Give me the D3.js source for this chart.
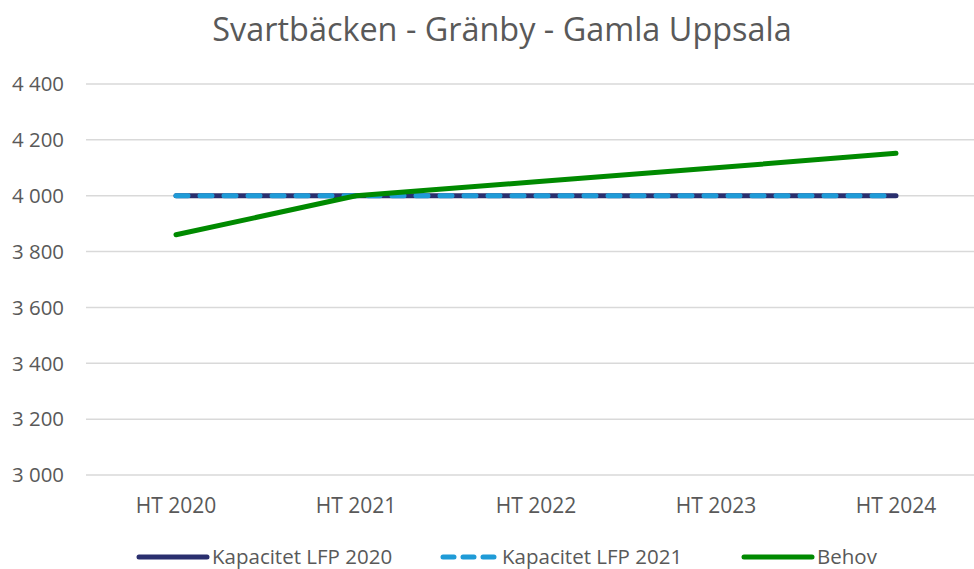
<!DOCTYPE html>
<html>
<head>
<meta charset="utf-8">
<script src="https://cdn.jsdelivr.net/npm/d3@7/dist/d3.min.js"></script>
<style>
  html, body { margin: 0; padding: 0; background: #fff; }
  svg { display: block; font-family: "Open Sans", Lato, sans-serif; }
</style>
</head>
<body>
<svg id="chart" width="974" height="569"></svg>
<script>
// Chart data
const categories = ["HT 2020", "HT 2021", "HT 2022", "HT 2023", "HT 2024"];
const kapacitet2020 = [4000, 4000, 4000, 4000, 4000];
const kapacitet2021 = [4000, 4000, 4000, 4000, 4000];
const behov = [3860, 4000, 4050, 4100, 4152];
const yTicks = [3000, 3200, 3400, 3600, 3800, 4000, 4200, 4400];
const title = "Svartbäcken - Gränby - Gamla Uppsala";
const seriesNames = ["Kapacitet LFP 2020", "Kapacitet LFP 2021", "Behov"];

const svg = d3.select("#chart");
const W = 974, H = 569;
const plot = { left: 86, right: 986, top: 84, bottom: 475 };

const x = d3.scalePoint().domain(categories).range([plot.left, plot.right]).padding(0.5);
const y = d3.scaleLinear().domain([3000, 4400]).range([plot.bottom, plot.top]);

const locale = d3.formatLocale({ decimal: ",", thousands: "\u00a0", grouping: [3], currency: ["", " kr"] });
const fmt = locale.format(",d");

const textColor = "#595959";

// Title
svg.append("text")
  .attr("x", 502).attr("y", 41)
  .attr("text-anchor", "middle")
  .attr("font-size", 32.4)
  .attr("fill", textColor)
  .text(title);

// Horizontal gridlines
svg.append("g")
  .selectAll("line")
  .data(yTicks)
  .join("line")
  .attr("x1", plot.left).attr("x2", W)
  .attr("y1", d => y(d)).attr("y2", d => y(d))
  .attr("stroke", "#d9d9d9")
  .attr("stroke-width", 1.5);

// Y axis labels
svg.append("g")
  .selectAll("text")
  .data(yTicks)
  .join("text")
  .attr("x", 64)
  .attr("y", d => y(d))
  .attr("dy", "0.36em")
  .attr("text-anchor", "end")
  .attr("font-size", 20.4)
  .attr("fill", textColor)
  .text(d => fmt(d));

// X axis labels
svg.append("g")
  .selectAll("text")
  .data(categories)
  .join("text")
  .attr("x", d => x(d))
  .attr("y", 513)
  .attr("text-anchor", "middle")
  .attr("font-size", 21)
  .attr("fill", textColor)
  .text(d => d);

const line = d3.line()
  .x((d, i) => x(categories[i]))
  .y(d => y(d));

const styles = [
  { color: "#2a2f6e", dash: null },
  { color: "#1f9bd7", dash: "12,12" },
  { color: "#008a00", dash: null }
];
const allSeries = [kapacitet2020, kapacitet2021, behov];

const gLines = svg.append("g");
allSeries.forEach((vals, k) => {
  gLines.append("path")
    .attr("d", line(vals))
    .attr("fill", "none")
    .attr("stroke", styles[k].color)
    .attr("stroke-width", 5)
    .attr("stroke-linecap", "round")
    .attr("stroke-linejoin", "round")
    .attr("stroke-dasharray", styles[k].dash);
});

// Legend
const legendY = 557;
const legendItems = [
  { x1: 139, x2: 207, tx: 212 },
  { x1: 443, x2: 496, tx: 502 },
  { x1: 744, x2: 812, tx: 817 }
];
const gLegend = svg.append("g");
legendItems.forEach((it, k) => {
  gLegend.append("line")
    .attr("x1", it.x1).attr("x2", it.x2)
    .attr("y1", legendY).attr("y2", legendY)
    .attr("stroke", styles[k].color)
    .attr("stroke-width", 5)
    .attr("stroke-linecap", "round")
    .attr("stroke-dasharray", k === 1 ? "11,9" : null);
  gLegend.append("text")
    .attr("x", it.tx).attr("y", 563.5)
    .attr("font-size", 20.5)
    .attr("fill", textColor)
    .text(seriesNames[k]);
});
</script>
</body>
</html>
